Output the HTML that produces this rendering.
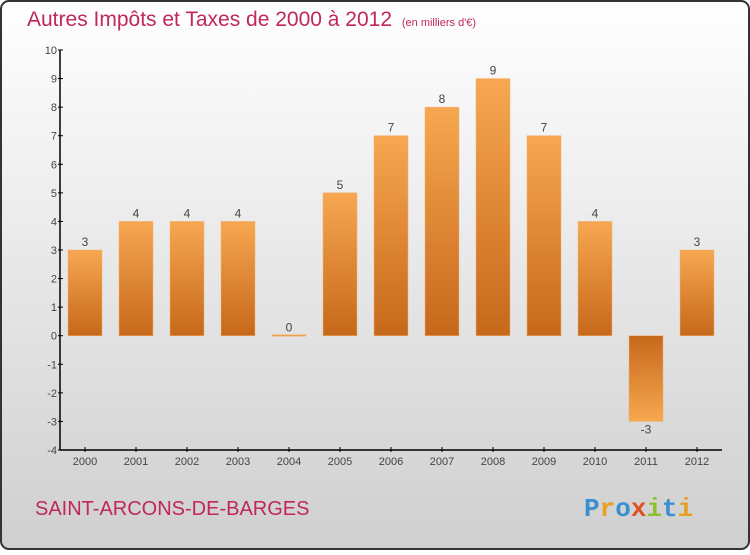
<!DOCTYPE html>
<html><head><meta charset="utf-8"><style>
html,body{margin:0;padding:0}
body{width:750px;height:550px;overflow:hidden;font-family:"Liberation Sans",sans-serif}
</style></head><body>
<svg id="chart" width="750" height="550" xmlns="http://www.w3.org/2000/svg">
<defs>
<linearGradient id="bg" x1="0" y1="0" x2="0" y2="1"><stop offset="0" stop-color="#ffffff"/><stop offset="1" stop-color="#cfcfcf"/></linearGradient>
<linearGradient id="barPos" x1="0" y1="0" x2="0" y2="1"><stop offset="0" stop-color="#f7a751"/><stop offset="1" stop-color="#c6681a"/></linearGradient>
<linearGradient id="barNeg" x1="0" y1="0" x2="0" y2="1"><stop offset="0" stop-color="#c6681a"/><stop offset="1" stop-color="#f7a751"/></linearGradient>
</defs>
<rect x="1" y="1" width="748" height="548" rx="8" fill="url(#bg)" stroke="#333" stroke-width="2"/>
<text x="27" y="26" font-size="21" fill="#c0275a">Autres Impôts et Taxes de 2000 à 2012 <tspan font-size="11" dx="4">(en milliers d'€)</tspan></text>
<g id="plot"></g>
<text x="35" y="515" font-size="20" fill="#c0275a">SAINT-ARCONS-DE-BARGES</text>
<text x="584" y="516" font-size="26" font-weight="bold" font-family="'Liberation Mono',monospace"><tspan fill="#3a8fd0">P</tspan><tspan fill="#e8a020">r</tspan><tspan fill="#3a8fd0">o</tspan><tspan fill="#e05020">x</tspan><tspan fill="#8cc030">i</tspan><tspan fill="#3a8fd0">t</tspan><tspan fill="#e8a020">i</tspan></text>
</svg>
<script>
const years = ["2000","2001","2002","2003","2004","2005","2006","2007","2008","2009","2010","2011","2012"];
const values = [3,4,4,4,0,5,7,8,9,7,4,-3,3];
const yTicks = [10,9,8,7,6,5,4,3,2,1,0,-1,-2,-3,-4];
const NS="http://www.w3.org/2000/svg";
const g=document.getElementById('plot');
const yMin=-4,yMax=10,plotTop=50,plotBot=450,axisX=60;
const y=v=>plotBot-(v-yMin)/(yMax-yMin)*(plotBot-plotTop);
const x=i=>85+i*51;
function mk(t,a){const e=document.createElementNS(NS,t);for(const k in a)e.setAttribute(k,a[k]);g.appendChild(e);return e;}
let e;
e=mk('line',{x1:axisX,y1:plotTop,x2:axisX,y2:plotBot,stroke:'#000','stroke-width':1.5});


e=mk('line',{x1:axisX,y1:plotBot,x2:722,y2:plotBot,stroke:'#000','stroke-width':1.5});


yTicks.forEach(v=>{
  e=mk('line',{x1:axisX-2,y1:y(v),x2:axisX+3,y2:y(v),stroke:'#000'});
  
  
  e=mk('text',{x:axisX-3,y:y(v)+4,'font-size':11,fill:'#444','text-anchor':'end'});
  e.textContent=v;
  
  
});
years.forEach((yr,i)=>{
  const v=values[i];
  e=mk('line',{x1:x(i),y1:plotBot-3,x2:x(i),y2:plotBot+2,stroke:'#000'});
  
  
  e=mk('text',{x:x(i),y:plotBot+15,'font-size':11,fill:'#444','text-anchor':'middle'});
  e.textContent=yr;
  
  
  const y0=y(0),yv=y(v);
  const h=Math.max(Math.abs(yv-y0),1.5);
  e=mk('rect',{x:x(i)-17,y:v>=0?yv:y0,width:34,height:h,fill:v>=0?'url(#barPos)':'url(#barNeg)',stroke:'#f2b070','stroke-width':0.5});
  if(v===0){e.setAttribute('y',y0-1);e.setAttribute('fill','#f0a050');}
  
  
  e=mk('text',{x:x(i),y:v>=0?yv-4:yv+12,'font-size':12,fill:'#444','text-anchor':'middle'});
  e.textContent=v;
  
  
});
</script>
</body></html>
